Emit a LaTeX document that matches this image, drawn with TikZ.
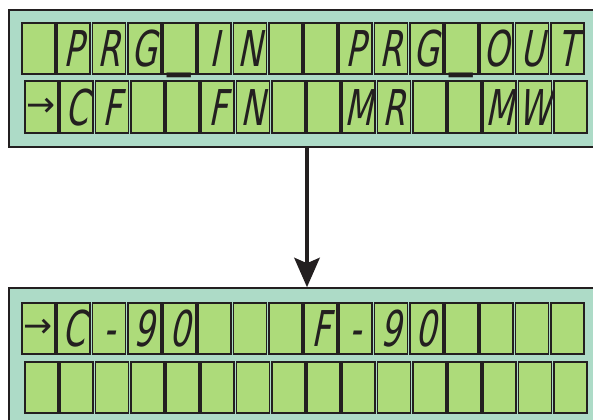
\documentclass[tikz,border=0pt]{standalone}
\usepackage{fontspec}
\usetikzlibrary{arrows.meta}

\newfontfamily\lcdfont[FakeStretch=0.66, FakeSlant=0.2]{DejaVu Sans}
\newfontfamily\symfont{DejaVu Sans}
\newcommand{\lcdarr}{\raisebox{6.5pt}{\symfont\fontsize{26}{26}\selectfont →}}
\newcommand{\lcdus}{\raisebox{4pt}{\scalebox{0.95}[1.4]{\symfont\_}}}

\definecolor{lcdbg}{RGB}{173,219,199}
\definecolor{lcdcell}{RGB}{173,219,122}
\definecolor{lcdink}{RGB}{35,31,32}

\begin{document}
\begin{tikzpicture}[
  x = 0.75pt, y = -0.75pt,
  every node/.style = {inner sep=0pt},
  panel/.style = {draw=lcdink, line width=1.2pt, fill=lcdbg,
                  minimum width=447pt, minimum height=102.75pt},
  cell/.style  = {draw=lcdink, line width=1.4pt, fill=lcdcell, text=lcdink,
                  minimum width=24.75pt, minimum height=38.5pt,
                  text height=27pt, text depth=0pt,
                  font=\lcdfont\fontsize{37}{37}\selectfont},
  flow/.style  = {draw=lcdink, line width=3pt,
                  -{Stealth[length=22pt, width=19pt, inset=4pt]}},
]
\clip (0,0) rectangle (593,419);

% panels
\node[panel] (top) at (307,  78.5) {};
\node[panel] (bot) at (307, 356.5) {};

% top panel, row 1
\foreach \i/\t in {1/{}, 2/P, 3/R, 4/G, 5/\lcdus, 6/I, 7/N, 8/{},
                   9/{}, 10/P, 11/R, 12/G, 13/\lcdus, 14/O, 15/U, 16/T}
  \node[cell] (a1-\i) at ({38.5+(\i-1)*35.25}, 48.5) {\t};
% top panel, row 2
\foreach \i/\t in {1/\lcdarr, 2/C, 3/F, 4/{}, 5/{}, 6/F, 7/N, 8/{},
                   9/{}, 10/M, 11/R, 12/{}, 13/{}, 14/M, 15/W, 16/{}}
  \node[cell] (a2-\i) at ({41.5+(\i-1)*35.25}, 107) {\t};

% bottom panel, row 1
\foreach \i/\t in {1/\lcdarr, 2/C, 3/-, 4/9, 5/0, 6/{}, 7/{}, 8/{},
                   9/F, 10/-, 11/9, 12/0, 13/{}, 14/{}, 15/{}, 16/{}}
  \node[cell] (b1-\i) at ({38.5+(\i-1)*35.25}, 328.4) {\t};
% bottom panel, row 2
\foreach \i in {1,...,16}
  \node[cell] (b2-\i) at ({41.5+(\i-1)*35.25}, 387.3) {};

\draw[flow] (top.south) -- (bot.north);

\end{tikzpicture}
\end{document}
